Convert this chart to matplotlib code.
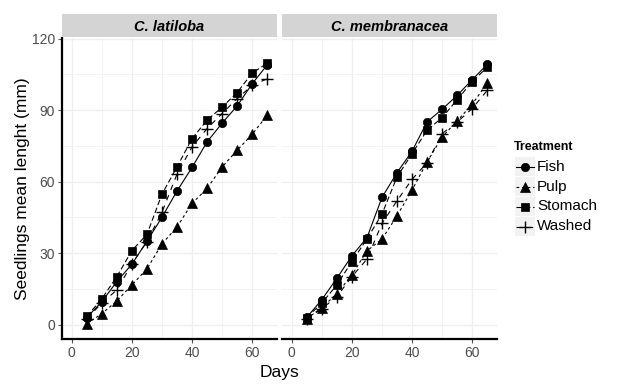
import matplotlib.pyplot as plt
from matplotlib.lines import Line2D
from matplotlib.patches import Rectangle

plt.rcParams['font.family'] = ['Liberation Sans', 'DejaVu Sans']

days = [5, 10, 15, 20, 25, 30, 35, 40, 45, 50, 55, 60, 65]
species = ['C. latiloba', 'C. membranacea']
treatments = ['Fish', 'Pulp', 'Stomach', 'Washed']

# seedling mean length (mm) per species and treatment
latiloba = {
    'Fish':    [3, 9.7, 18.1, 25.4, 35, 45.1, 56.1, 66, 76.7, 84.6, 91.8, 101.1, 109],
    'Pulp':    [0.5, 4.6, 10, 16.7, 23.4, 33.9, 41, 50.9, 57.2, 66.2, 73.2, 79.9, 87.9],
    'Stomach': [3.5, 10.9, 20.2, 31.1, 37.9, 54.8, 66.2, 78.1, 85.8, 91.3, 97.4, 105.6, 109.7],
    'Washed':  [2.5, 9.1, 14.6, 25.5, 34.9, 47.2, 63.2, 74.6, 82.3, 88.6, 94.9, 100.4, 103.2],
}
membranacea = {
    'Fish':    [3.1, 10.5, 19.5, 28.9, 36.5, 53.4, 63.8, 72.8, 85.1, 90.4, 96.2, 102.8, 109.2],
    'Pulp':    [2.5, 7.2, 13, 20.9, 31, 35.9, 45.7, 56.5, 68.3, 78.8, 85.5, 92.5, 101.4],
    'Stomach': [3, 9.1, 16.7, 26.5, 36, 46.4, 62, 71.8, 81.6, 86.9, 94.4, 102, 108],
    'Washed':  [2.5, 6.7, 11.8, 20.2, 27.5, 42.5, 52, 61, 68, 80.2, 85, 90.7, 98.3],
}
data = [latiloba, membranacea]

markers = {'Fish': 'o', 'Pulp': '^', 'Stomach': 's', 'Washed': '+'}
msizes = {'Fish': 6, 'Pulp': 6.5, 'Stomach': 5.5, 'Washed': 9}
lstyles = {'Fish': '-', 'Pulp': (0, (2.5, 2.5)), 'Stomach': (0, (5, 2.5)),
           'Washed': (0, (5, 5))}

W, H = 626, 390
fig = plt.figure(figsize=(W / 100, H / 100), dpi=100)

panel_x = [62, 282]
pw = 215
ptop, pbot = 38, 339

for i, sp in enumerate(species):
    x0 = panel_x[i]
    ax = fig.add_axes([x0 / W, (H - pbot) / H, pw / W, (pbot - ptop) / H])
    for t in treatments:
        ax.plot(days, data[i][t], color='black', lw=0.8, linestyle=lstyles[t],
                marker=markers[t], markersize=msizes[t],
                markeredgewidth=1.0 if t == 'Washed' else 0.5, zorder=3)
    ax.set_xlim(-3.25, 68.25)
    ax.set_ylim(-6, 120.3)
    ax.set_xticks([0, 20, 40, 60])
    ax.set_xticks([10, 30, 50], minor=True)
    ax.set_yticks([0, 30, 60, 90, 120])
    ax.set_yticks([15, 45, 75, 105], minor=True)
    ax.grid(True, which='major', color='#EFEFEF', lw=0.9, zorder=0)
    ax.grid(True, which='minor', color='#F1F1F1', lw=0.6, zorder=0)
    ax.set_axisbelow(True)
    for s in ['top', 'right']:
        ax.spines[s].set_visible(False)
    ax.spines['bottom'].set_linewidth(1.6)
    ax.tick_params(which='minor', length=0)
    ax.tick_params(which='major', length=3, color='#555555', labelsize=10,
                   labelcolor='#4D4D4D', pad=2)
    if i == 0:
        ax.spines['left'].set_linewidth(1.6)
        ax.set_ylabel('Seedlings mean lenght (mm)', fontsize=12.5, labelpad=1)
    else:
        ax.spines['left'].set_visible(False)
        ax.tick_params(axis='y', which='both', left=False, labelleft=False)

    # facet strip
    sax = fig.add_axes([x0 / W, (H - 37) / H, pw / W, 23 / H])
    sax.set_facecolor('#D4D4D4')
    sax.set_xticks([])
    sax.set_yticks([])
    for s in sax.spines.values():
        s.set_visible(False)
    sax.text(0.5, 0.45, sp, ha='center', va='center', fontsize=10.5,
             fontweight='bold', fontstyle='italic', transform=sax.transAxes)

fig.text((62 + 497) / 2 / W, (H - 372) / H, 'Days', ha='center', va='center',
         fontsize=12.5)

# legend drawn by hand so the grey key boxes line up
fig.text(514 / W, (H - 147) / H, 'Treatment', ha='left', va='center',
         fontsize=9, fontweight='bold')
for k, t in enumerate(treatments):
    yc = 166.5 + 20 * k
    fig.patches.append(Rectangle((515 / W, (H - yc - 9.5) / H), 20 / W, 19 / H,
                                 transform=fig.transFigure, facecolor='#F2F2F2',
                                 edgecolor='none'))
    fig.lines.append(Line2D([516 / W, 534 / W], [(H - yc) / H] * 2,
                            transform=fig.transFigure, color='black', lw=0.8,
                            linestyle=lstyles[t]))
    fig.lines.append(Line2D([525 / W], [(H - yc) / H], transform=fig.transFigure,
                            color='black', marker=markers[t], markersize=msizes[t],
                            markeredgewidth=1.0 if t == 'Washed' else 0.5,
                            linestyle='none'))
    fig.text(537 / W, (H - yc) / H, t, ha='left', va='center', fontsize=11)

fig.savefig('out.png', dpi=100)
